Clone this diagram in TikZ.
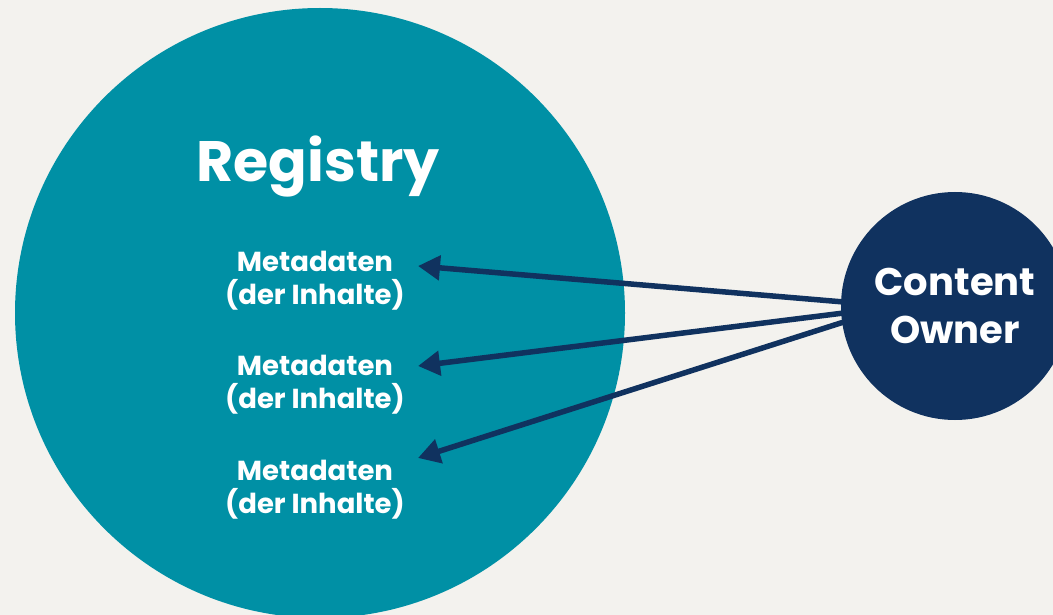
\documentclass[tikz,border=0pt]{standalone}
\usepackage{fontspec}
\setmainfont{Poppins}
\usetikzlibrary{arrows.meta}
\definecolor{bgc}{HTML}{F3F2EE}
\definecolor{tealc}{HTML}{0090A5}
\definecolor{navyc}{HTML}{10325F}
\tikzset{
  bubble/.style={circle, inner sep=0pt, text=white, font=\bfseries},
  meta/.style={text=white, inner sep=0pt, align=center, font=\bfseries\fontsize{27.5}{33}\selectfont},
  arr/.style={draw=navyc, line width=5.5pt, -{Triangle[length=22pt,width=24pt]}}
}
\begin{document}
\begin{tikzpicture}[x=1pt,y=-1pt]
\fill[bgc] (0,0) rectangle (1053,615);
\useasboundingbox (0,0) rectangle (1053,615);
\node[bubble, fill=tealc, minimum size=610pt] (registry) at (320,313) {};
\node[text=white, inner sep=0pt, anchor=base, font=\bfseries\fontsize{57}{66}\selectfont] (title) at (318,182) {Registry};
\node[meta] (m1) at (315,281) {Metadaten\\(der Inhalte)};
\node[meta] (m2) at (315,385) {Metadaten\\(der Inhalte)};
\node[meta] (m3) at (315,490) {Metadaten\\(der Inhalte)};
\coordinate (t1) at (418,266);
\coordinate (t2) at (418,366);
\coordinate (t3) at (418,458);
\node[bubble, fill=navyc, minimum size=228pt, align=center, font=\bfseries\fontsize{38.5}{48}\selectfont] (owner) at (955,306) {Content\\Owner};
\draw[arr] ([xshift=3pt,yshift=4pt]owner.west) -- (t1);
\draw[arr] ([xshift=3pt,yshift=-7pt]owner.west) -- (t2);
\draw[arr] ([xshift=3pt,yshift=-16pt]owner.west) -- (t3);
\end{tikzpicture}
\end{document}
